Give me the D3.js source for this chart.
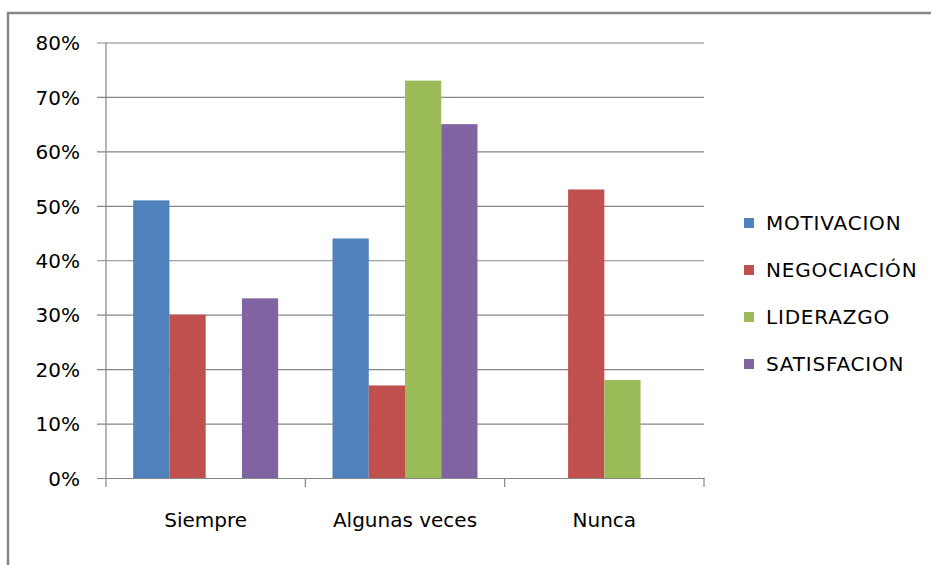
<!DOCTYPE html>
<html>
<head>
<meta charset="utf-8">
<script src="https://cdn.jsdelivr.net/npm/d3@7"></script>
<style>
  body { margin: 0; background: #fff; }
  svg text { font-family: "DejaVu Sans", Verdana, sans-serif; fill: #000; }
</style>
</head>
<body>
<div class="chart"></div>
<script>
// data
var categories = ["Siempre", "Algunas veces", "Nunca"];
var seriesNames = ["MOTIVACION", "NEGOCIACIÓN", "LIDERAZGO", "SATISFACION"];
var seriesColors = ["#4F81BD", "#C0504D", "#9BBB59", "#8064A2"];
var motivacion = [0.51, 0.44, 0];
var negociacion = [0.30, 0.17, 0.53];
var liderazgo = [0, 0.73, 0.18];
var satisfacion = [0.33, 0.65, 0];
var yTicks = [0, 0.1, 0.2, 0.3, 0.4, 0.5, 0.6, 0.7, 0.8];

var width = 931, height = 565;
var plot = {left: 106, right: 704, top: 42.5, bottom: 478};

var svg = d3.select(".chart").append("svg")
    .attr("width", width)
    .attr("height", height);

// outer chart frame (runs past the bottom/right of the picture)
svg.append("rect")
    .attr("x", 8).attr("y", 13)
    .attr("width", 960).attr("height", 600)
    .attr("fill", "none")
    .attr("stroke", "#868686")
    .attr("stroke-width", 2.5);

var y = d3.scaleLinear().domain([0, 0.8]).range([plot.bottom, plot.top]);

var x0 = d3.scaleBand().domain(categories).range([plot.left, plot.right]);
// excel gap width 150% -> 4 bars + 1.5 bar of gap per category
var x1 = d3.scaleBand().domain(seriesNames)
    .range([0, x0.bandwidth()])
    .paddingOuter(0.75).paddingInner(0);

var allSeries = [motivacion, negociacion, liderazgo, satisfacion];
var rows = [];
categories.forEach(function(c, ci){
    seriesNames.forEach(function(s, si){
        rows.push({cat: c, series: s, color: seriesColors[si], value: allSeries[si][ci]});
    });
});

// gridlines + y axis
var yAxis = d3.axisLeft(y)
    .tickValues(yTicks)
    .tickFormat(d3.format(".0%"))
    .tickSize(-(plot.right - plot.left))
    .tickPadding(26);

var gy = svg.append("g")
    .attr("transform", "translate(" + plot.left + ",0)")
    .call(yAxis);
gy.select(".domain").remove();
gy.selectAll(".tick line")
    .attr("x1", -9)
    .attr("stroke", "#868686")
    .attr("stroke-width", 1.2);
gy.selectAll(".tick text")
    .style("font-size", "20px")
    .attr("dy", "0.36em");

// bars
svg.append("g")
    .selectAll("rect")
    .data(rows)
    .enter().append("rect")
        .attr("x", d => x0(d.cat) + x1(d.series))
        .attr("width", x1.bandwidth())
        .attr("y", d => y(d.value))
        .attr("height", d => y(0) - y(d.value))
        .attr("fill", d => d.color);

// category axis
var xAxis = d3.axisBottom(x0).tickSize(0).tickPadding(35);
var gx = svg.append("g")
    .attr("transform", "translate(0," + plot.bottom + ")")
    .call(xAxis);
gx.select(".domain").attr("stroke", "#868686").attr("stroke-width", 1.2);
gx.selectAll(".tick text").style("font-size", "20px");

// category separators
var sepX = [plot.left].concat(categories.map(c => x0(c) + x0.bandwidth()));
svg.append("g")
    .selectAll("line")
    .data(sepX)
    .enter().append("line")
        .attr("x1", d => d).attr("x2", d => d)
        .attr("y1", plot.bottom).attr("y2", plot.bottom + 9)
        .attr("stroke", "#868686")
        .attr("stroke-width", 1.2);

// y axis line
svg.append("line")
    .attr("x1", plot.left).attr("x2", plot.left)
    .attr("y1", plot.top).attr("y2", plot.bottom)
    .attr("stroke", "#868686")
    .attr("stroke-width", 1.2);

// legend
var legend = svg.append("g")
    .attr("class", "legend")
    .selectAll("g")
    .data(seriesNames)
    .enter().append("g")
        .attr("transform", (d, i) => "translate(744," + (223 + i * 47) + ")");
legend.append("rect")
    .attr("x", 0).attr("y", -5)
    .attr("width", 10).attr("height", 10)
    .attr("fill", (d, i) => seriesColors[i]);
legend.append("text")
    .attr("x", 22)
    .attr("dy", "0.36em")
    .style("font-size", "20px")
    .style("letter-spacing", "0.8px")
    .text(d => d);
</script>
</body>
</html>
